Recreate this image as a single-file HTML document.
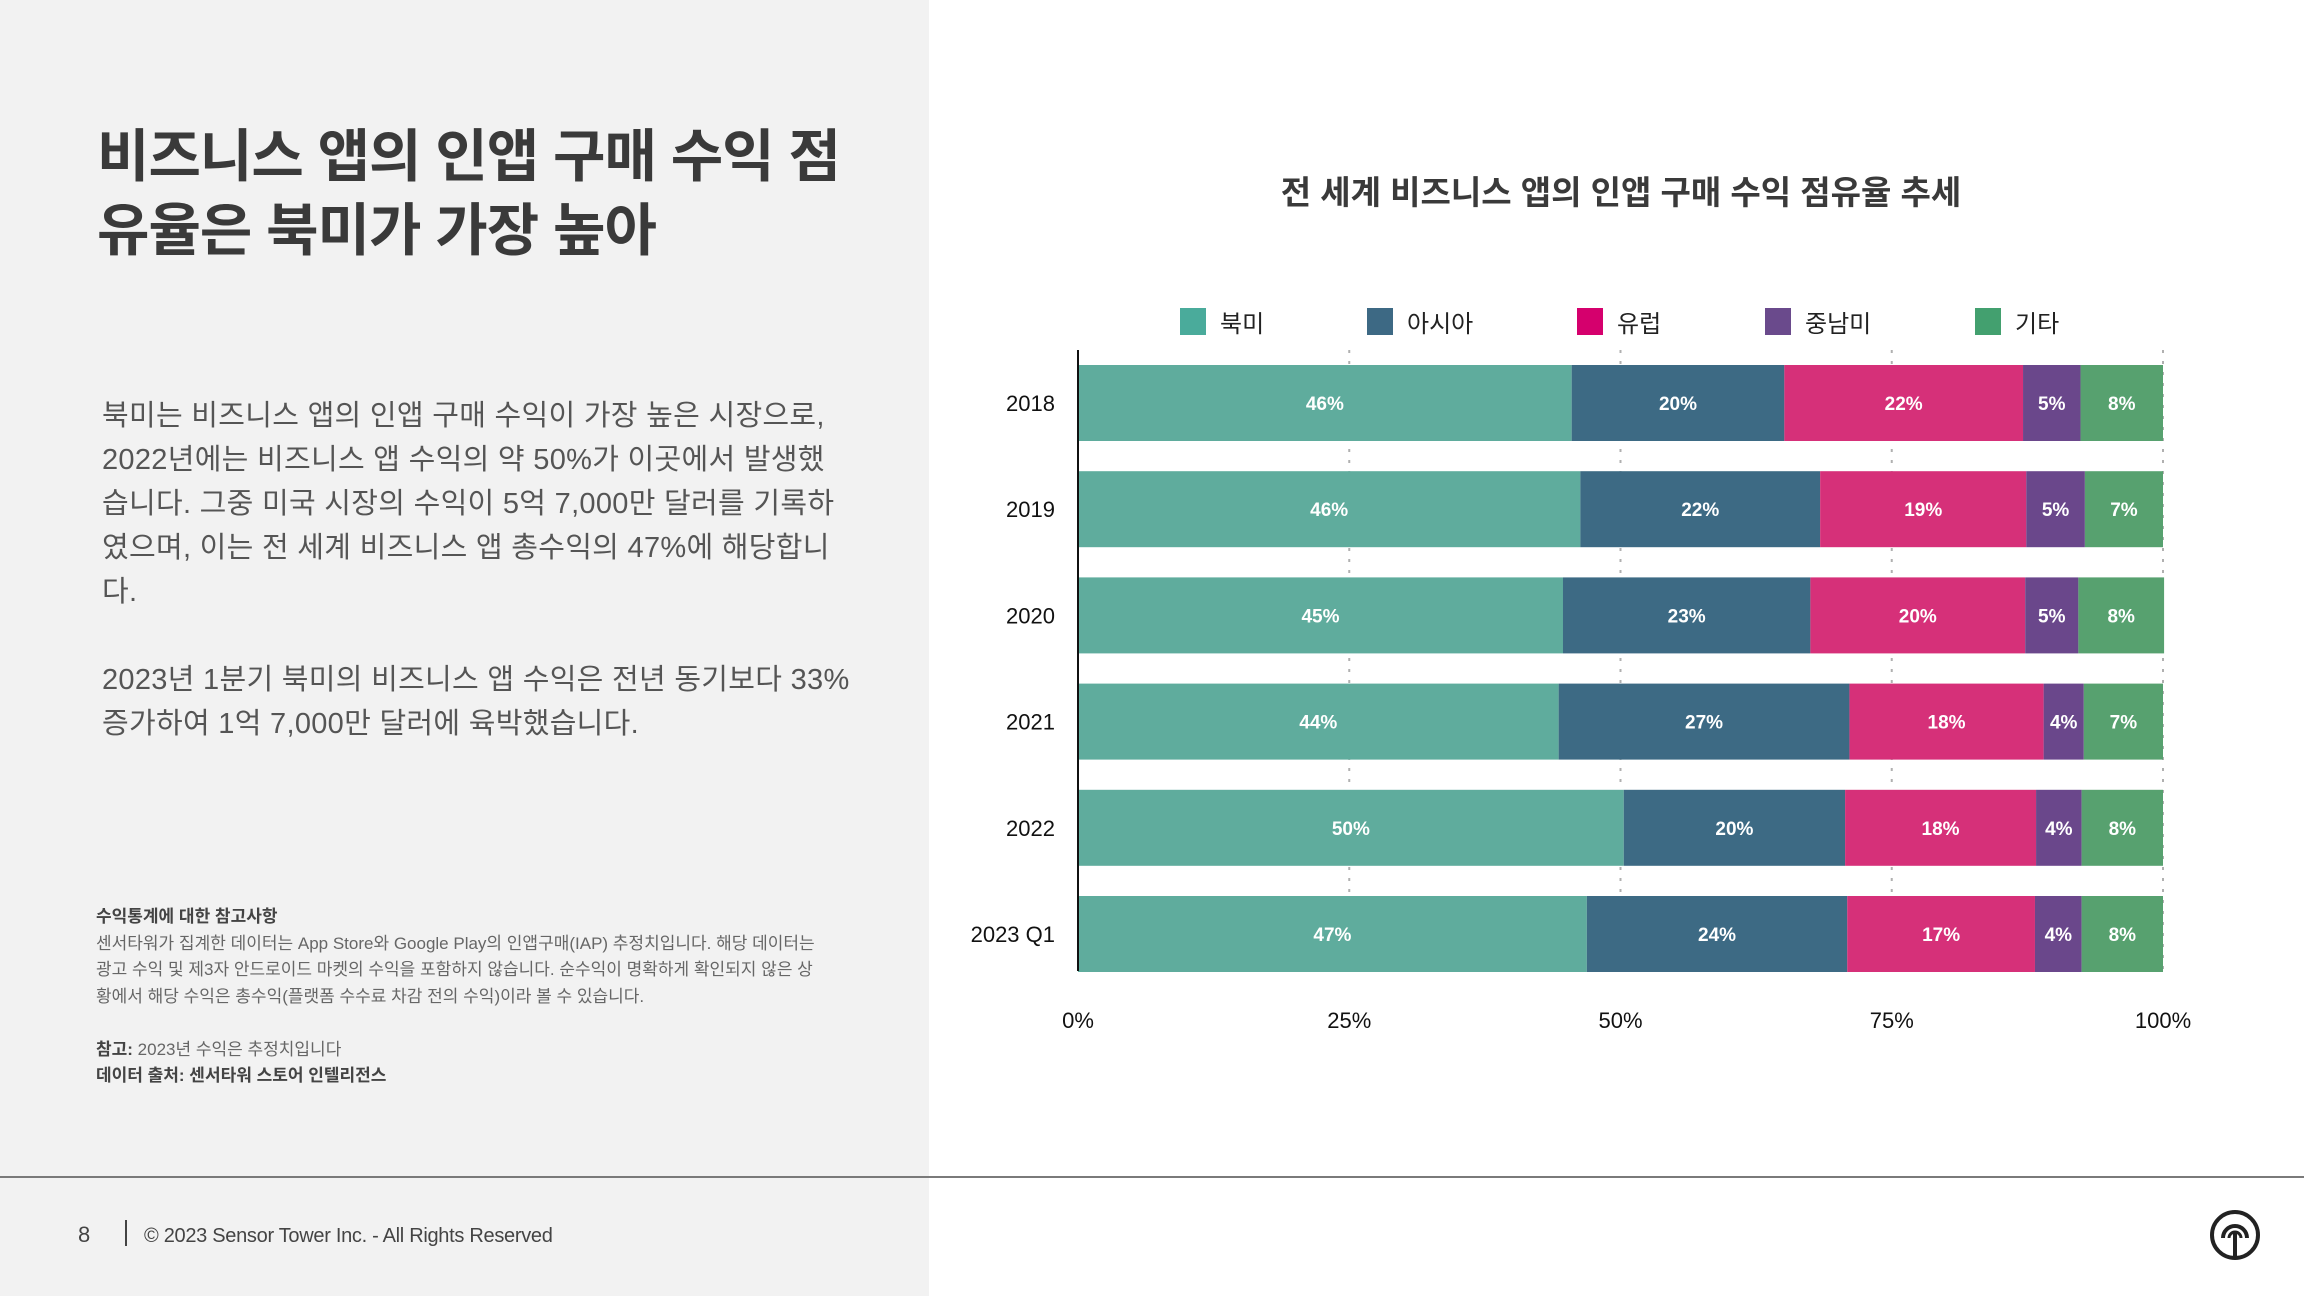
<!DOCTYPE html>
<html><head><meta charset="utf-8">
<style>
body{margin:0;width:2304px;height:1296px;overflow:hidden;background:#fff;font-family:"Liberation Sans","Noto Sans CJK KR",sans-serif;position:relative}
#left{position:absolute;left:0;top:0;width:929px;height:1296px;background:#f2f2f2}
.t{position:absolute;color:#333;white-space:nowrap}
#hr{position:absolute;left:0;top:1176px;width:2304px;height:2px;background:#7a7a7a}
</style></head><body>
<div id="left"></div>
<div class="t" style="left:97px;top:120px;font-size:57px;font-weight:bold;line-height:74px;color:#3a3a3a;letter-spacing:-1px">비즈니스 앱의 인앱 구매 수익 점<br>유율은 북미가 가장 높아</div>
<div class="t" style="left:102px;top:394px;font-size:29px;line-height:44px;color:#555;letter-spacing:0.3px">북미는 비즈니스 앱의 인앱 구매 수익이 가장 높은 시장으로,<br>2022년에는 비즈니스 앱 수익의 약 50%가 이곳에서 발생했<br>습니다. 그중 미국 시장의 수익이 5억 7,000만 달러를 기록하<br>였으며, 이는 전 세계 비즈니스 앱 총수익의 47%에 해당합니<br>다.<br><br>2023년 1분기 북미의 비즈니스 앱 수익은 전년 동기보다 33%<br>증가하여 1억 7,000만 달러에 육박했습니다.</div>
<div class="t" style="left:96px;top:904px;font-size:17px;line-height:26.5px;color:#666"><b style="color:#444">수익통계에 대한 참고사항</b><br>센서타워가 집계한 데이터는 App Store와 Google Play의 인앱구매(IAP) 추정치입니다. 해당 데이터는<br>광고 수익 및 제3자 안드로이드 마켓의 수익을 포함하지 않습니다. 순수익이 명확하게 확인되지 않은 상<br>황에서 해당 수익은 총수익(플랫폼 수수료 차감 전의 수익)이라 볼 수 있습니다.<br><br><b style="color:#444">참고:</b> 2023년 수익은 추정치입니다<br><b style="color:#444">데이터 출처: 센서타워 스토어 인텔리전스</b></div>
<div id="hr"></div>
<div class="t" style="left:78px;top:1222px;font-size:22px;color:#444">8</div>
<div class="t" style="left:125px;top:1220px;width:2px;height:26px;background:#444"></div>
<div class="t" style="left:144px;top:1225px;font-size:20px;color:#444;letter-spacing:-0.3px">© 2023 Sensor Tower Inc. - All Rights Reserved</div>
<svg style="position:absolute;left:2208px;top:1208px" width="54" height="54"><circle cx="27" cy="27" r="23" fill="none" stroke="#222" stroke-width="4"/><path d="M15 30 A12 12 0 1 1 39 30" fill="none" stroke="#222" stroke-width="4"/><line x1="27" y1="25" x2="27" y2="50" stroke="#222" stroke-width="4"/><path d="M21 30 A6 6 0 1 1 33 30" fill="none" stroke="#222" stroke-width="3"/></svg>
<svg id="chart" style="position:absolute;left:0;top:0" width="2304" height="1296"></svg>
<script>
const categories=["2018","2019","2020","2021","2022","2023 Q1"];
const seriesNames=["북미","아시아","유럽","중남미","기타"];
const northAmerica=[45.5,46.3,44.7,44.3,50.3,46.9];
const asia=[19.6,22.1,22.8,26.8,20.4,24.0];
const europe=[22.0,19.0,19.8,17.9,17.6,17.3];
const latam=[5.3,5.4,4.9,3.7,4.2,4.3];
const other=[7.6,7.2,7.9,7.3,7.5,7.5];
const ticks=[0,25,50,75,100];
const barColors=["#5fac9d","#3d6a84","#d63079","#6a478b","#57a16f"];
const legendColors=["#4aab9b","#3d6984","#d5006d","#6a4a8c","#43a06f"];
const series=[northAmerica,asia,europe,latam,other];
const NS="http://www.w3.org/2000/svg";
const svg=document.getElementById('chart');
const X0=1078,X1=2163,Y0=350,Y1=971,BAND=106.2,BH=76,BTOP=365;
const xs=v=>X0+(X1-X0)*v/100;
const yb=i=>BTOP+i*BAND;
function mk(t,a){const e=document.createElementNS(NS,t);for(const k in a)e.setAttribute(k,a[k]);svg.appendChild(e);return e;}
let e=mk('text',{x:1621,y:204,'text-anchor':'middle','font-size':33,'font-weight':'bold',fill:'#3a3a3a'});e.textContent='전 세계 비즈니스 앱의 인앱 구매 수익 점유율 추세';


const lx=[1180,1367,1577,1765,1975];
seriesNames.forEach((n,i)=>{
 let r=mk('rect',{x:lx[i],y:308,width:26,height:27,fill:legendColors[i]});
 
 
 let t=mk('text',{x:lx[i]+40,y:332,'font-size':24,fill:'#222'});t.textContent=n;
 
 
});
ticks.forEach(v=>{
 if(v>0){let g=mk('line',{x1:xs(v),x2:xs(v),y1:Y0,y2:Y1,stroke:'#b0b0b0','stroke-width':2,'stroke-dasharray':'3,8'});
 
 }
 let t=mk('text',{x:xs(v),y:1028,'text-anchor':'middle','font-size':22,fill:'#111'});t.textContent=v+'%';
 
 
});
categories.forEach((c,i)=>{
 let acc=0;
 series.forEach((s,j)=>{
  const v=s[i];
  let r=mk('rect',{x:xs(acc),y:yb(i),width:xs(acc+v)-xs(acc),height:BH,fill:barColors[j]});
  
  
  let t=mk('text',{x:(xs(acc)+xs(acc+v))/2,y:yb(i)+BH/2+7,'text-anchor':'middle','font-size':19,'font-weight':'bold',fill:'#fff'});
  t.textContent=Math.round(v)+'%';
  
  
  acc+=v;
 });
 let t=mk('text',{x:1055,y:yb(i)+BH/2+8,'text-anchor':'end','font-size':22,fill:'#111'});t.textContent=c;
 
 
});
let ax=mk('line',{x1:X0,x2:X0,y1:Y0,y2:Y1,stroke:'#111','stroke-width':2});


</script>
</body></html>
